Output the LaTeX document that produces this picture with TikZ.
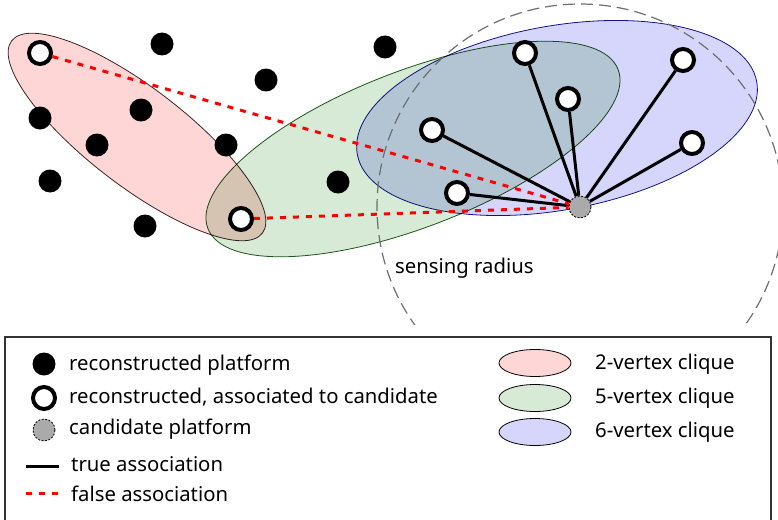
\documentclass[tikz,border=0pt]{standalone}
\usepackage{fontspec}
\setmainfont{Noto Sans}
\usetikzlibrary{shapes.geometric}

\definecolor{cliquetwo}{RGB}{255,214,214}
\definecolor{cliquefive}{RGB}{214,234,214}
\definecolor{cliquesix}{RGB}{214,214,252}
\definecolor{cliquetwoline}{RGB}{60,40,40}
\definecolor{cliquefiveline}{RGB}{30,90,30}
\definecolor{cliquesixline}{RGB}{20,20,140}
\definecolor{candgray}{RGB}{170,170,170}
\definecolor{senseline}{RGB}{110,110,110}

\begin{document}
\begin{tikzpicture}[x=1pt,y=-1pt,
  platform/.style={circle, fill=black, inner sep=0pt, minimum size=23pt},
  assoc/.style={circle, draw=black, fill=white, line width=4pt, inner sep=0pt, minimum size=22pt},
  cand/.style={circle, draw=black, dash pattern=on 2pt off 1.5pt, fill=candgray, line width=0.8pt, inner sep=0pt, minimum size=22pt},
  truelink/.style={line width=3pt, black},
  falselink/.style={line width=3pt, red, dash pattern=on 6pt off 7pt},
  legtext/.style={font=\fontsize{20.3}{24}\selectfont, anchor=base west, inner sep=0pt},
  legclique/.style={ellipse, draw=black, line width=0.8pt, inner sep=0pt, minimum width=72pt, minimum height=27pt},
  legframe/.style={draw=black!80, line width=1.2pt}
]
\useasboundingbox (0,0) rectangle (778,519);

% clique regions, overlapping areas darken by multiplication
\begin{scope}[blend group=multiply]
  \path[draw=cliquetwoline, fill=cliquetwo, line width=0.8pt, shift={(137,137)}, rotate=-37.5]
    (0,0) ellipse [x radius=158pt, y radius=49pt];
  \path[draw=cliquefiveline, fill=cliquefive, line width=0.8pt, shift={(413,149)}, rotate=21.2]
    (0,0) ellipse [x radius=220pt, y radius=78pt];
  \path[draw=cliquesixline, fill=cliquesix, line width=0.8pt, shift={(557,118)}, rotate=10.3]
    (0,0) ellipse [x radius=203pt, y radius=92pt];
\end{scope}

% sensing radius around the candidate
\coordinate (sensecenter) at (580,207);
\begin{scope}
  \clip (0,0) rectangle (778,324);
  \draw[senseline, line width=1.2pt, dash pattern=on 12pt off 6pt] (sensecenter) circle [radius=203pt];
\end{scope}
\node[legtext] (sensetext) at (395,273) {sensing radius};

% reconstructed platforms
\node[platform] (p1) at (162,44) {};
\node[platform] (p2) at (385,47) {};
\node[platform] (p3) at (266,80) {};
\node[platform] (p4) at (141,110) {};
\node[platform] (p5) at (40,118) {};
\node[platform] (p6) at (97,145) {};
\node[platform] (p7) at (226,145) {};
\node[platform] (p8) at (50,181) {};
\node[platform] (p9) at (338,182) {};
\node[platform] (p10) at (145,226) {};

% platforms associated to the candidate
\node[assoc] (r1) at (40,53) {};
\node[assoc] (r2) at (241,219) {};
\node[assoc] (a1) at (432,130) {};
\node[assoc] (a2) at (457,193) {};
\node[assoc] (a3) at (525,53) {};
\node[assoc] (a4) at (568,99) {};
\node[assoc] (a5) at (683,60) {};
\node[assoc] (a6) at (692,143) {};

\node[cand] (cand) at (sensecenter) {};

% associations
\foreach \n in {a1,a2,a3,a4,a5,a6}
  \draw[truelink] (\n) -- (cand);
\draw[falselink] (r1) -- (cand);
\draw[falselink] (r2) -- (cand);

% legend
\draw[legframe] (5,530) -- (5,337) -- (771,337) -- (771,530);

\node[platform] (lgdot) at (44,364) {};
\node[legtext] (lgdottext) at (69,370.5) {reconstructed platform};
\node[assoc] (lgring) at (44,398) {};
\node[legtext] (lgringtext) at (69,403) {reconstructed, associated to candidate};
\node[cand] (lgcand) at (44,430) {};
\node[legtext] (lgcandtext) at (69,434.5) {candidate platform};
\coordinate (lgtrueA) at (26,466);
\coordinate (lgtrueB) at (59,466);
\draw[truelink] (lgtrueA) -- (lgtrueB);
\node[legtext] (lgtruetext) at (71,471) {true association};
\coordinate (lgfalseA) at (26,493);
\coordinate (lgfalseB) at (59,493);
\draw[falselink] (lgfalseA) -- (lgfalseB);
\node[legtext] (lgfalsetext) at (71,501) {false association};

\node[legclique, fill=cliquetwo] (lgtwo) at (535,363) {};
\node[legtext] (lgtwotext) at (595,369) {2-vertex clique};
\node[legclique, fill=cliquefive] (lgfive) at (535,398) {};
\node[legtext] (lgfivetext) at (595,403) {5-vertex clique};
\node[legclique, fill=cliquesix] (lgsix) at (535,432) {};
\node[legtext] (lgsixtext) at (595,437) {6-vertex clique};
\end{tikzpicture}
\end{document}
